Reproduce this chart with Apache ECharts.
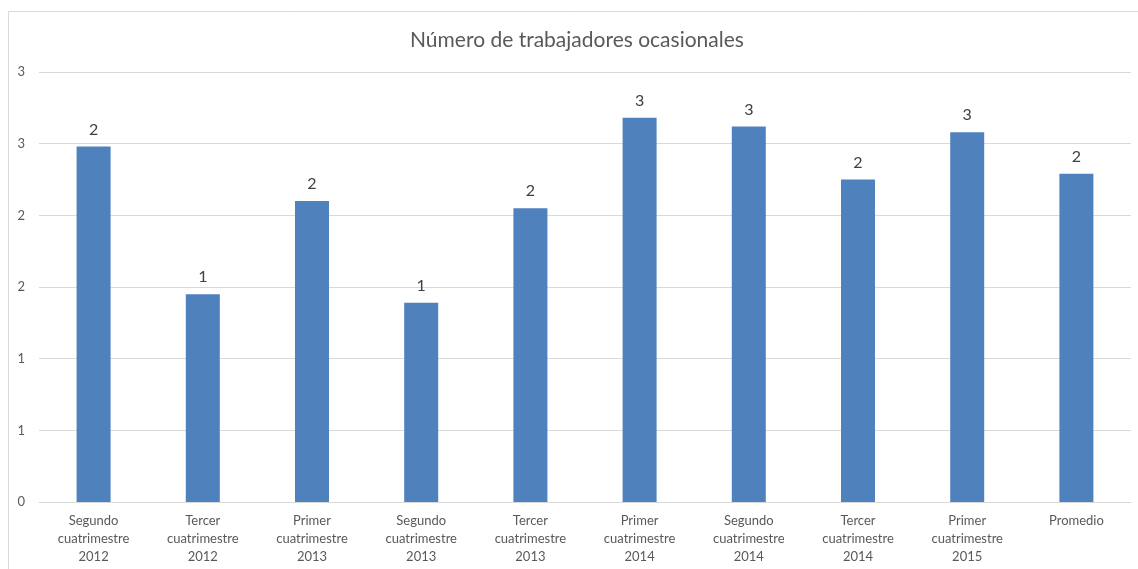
<!DOCTYPE html>
<html>
<head>
<meta charset="utf-8">
<script src="https://cdn.jsdelivr.net/npm/echarts@6/dist/echarts.min.js"></script>
<style>
html, body { margin: 0; padding: 0; background: #fff; }
#chart { width: 1138px; height: 569px; }
</style>
</head>
<body>
<div id="chart"></div>
<script>
// categorias y valores
var categorias = [
  'Segundo\ncuatrimestre\n2012', 'Tercer\ncuatrimestre\n2012', 'Primer\ncuatrimestre\n2013',
  'Segundo\ncuatrimestre\n2013', 'Tercer\ncuatrimestre\n2013', 'Primer\ncuatrimestre\n2014',
  'Segundo\ncuatrimestre\n2014', 'Tercer\ncuatrimestre\n2014', 'Primer\ncuatrimestre\n2015',
  'Promedio'
]
var trabajadores = [2.48, 1.45, 2.10, 1.39, 2.05, 2.68, 2.62, 2.25, 2.58, 2.29]
var titulo = 'Número de trabajadores ocasionales'

var chart = echarts.init(document.getElementById('chart'))
var fuente = 'Lato, "Open Sans", sans-serif'

var option = {
  animation: false,
  title: {
    text: titulo,
    left: 405,
    top: 25,
    textStyle: { color: '#595959', fontSize: 21, fontWeight: 'normal', fontFamily: fuente }
  },
  grid: { left: 39, right: 7, top: 72, bottom: 67 },
  xAxis: {
    type: 'category',
    data: categorias,
    axisLine: { lineStyle: { color: '#d9d9d9' } },
    axisTick: { show: false },
    axisLabel: {
      color: '#595959', fontSize: 13, fontFamily: fuente,
      lineHeight: 18, margin: 10, interval: 0
    }
  },
  yAxis: {
    type: 'value',
    min: 0,
    max: 3,
    interval: 0.5,
    axisLine: { show: false },
    axisTick: { show: false },
    splitLine: { lineStyle: { color: '#d9d9d9' } },
    axisLabel: {
      color: '#595959', fontSize: 13, fontFamily: fuente, margin: 14,
      formatter: function (v) { return Math.round(v) }
    }
  },
  series: [{
    type: 'bar',
    data: trabajadores,
    barWidth: 34,
    itemStyle: { color: '#4f81bd' },
    label: {
      show: true,
      position: 'top',
      distance: 9,
      color: '#404040',
      fontSize: 16,
      fontFamily: fuente,
      formatter: function (p) { return Math.round(p.value) }
    }
  }],
  graphic: {
    elements: [{
      type: 'rect',
      silent: true,
      shape: { x: 8.5, y: 11.5, width: 1200, height: 600 },
      style: { fill: 'none', stroke: '#d9d9d9', lineWidth: 1 }
    }]
  }
}

chart.setOption(option)
</script>
</body>
</html>
